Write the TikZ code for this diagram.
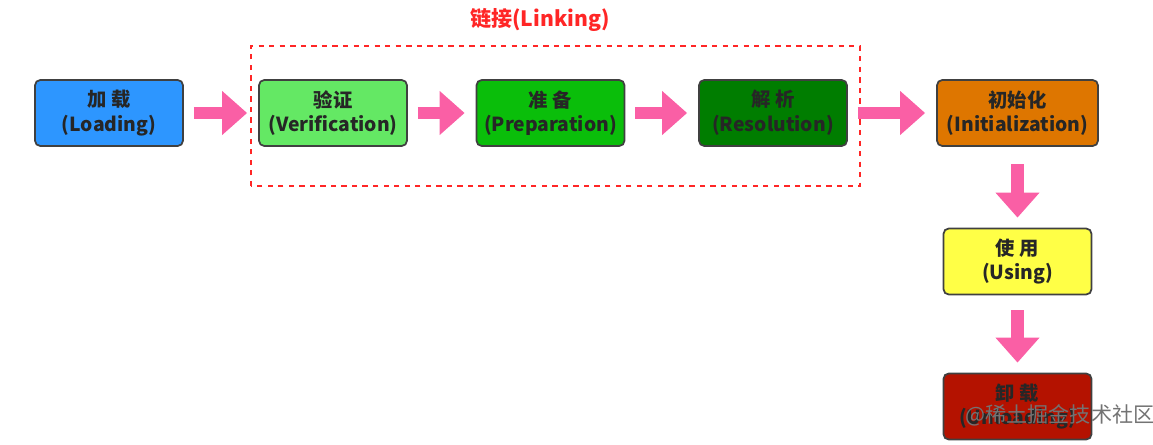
\documentclass[tikz,border=0pt]{standalone}
\usepackage{fontspec}
\setmainfont{Noto Sans CJK SC}
\usetikzlibrary{arrows.meta,positioning,fit,calc}
\definecolor{pinkarrow}{RGB}{250,95,165}
\definecolor{loadblue}{RGB}{45,150,255}
\definecolor{verigreen}{RGB}{100,232,100}
\definecolor{prepgreen}{RGB}{10,190,10}
\definecolor{resgreen}{RGB}{0,125,0}
\definecolor{initorange}{RGB}{222,118,0}
\definecolor{useyellow}{RGB}{255,255,70}
\definecolor{unloadred}{RGB}{180,18,0}

\begin{document}
\begin{tikzpicture}[font=\bfseries\fontsize{11}{14}\selectfont]
\tikzset{block/.style={rectangle,draw=black!75,line width=1pt,rounded corners=3pt,minimum width=2.96cm,minimum height=1.32cm,inner xsep=1pt,align=center,text=black!85}}
\tikzset{fat/.style={pinkarrow,line width=7pt,shorten <=0.2cm,shorten >=0.22cm,-{Triangle[length=0.5cm,width=0.85cm]}}}
\useasboundingbox (0,0) rectangle (23.06,8.88);

\node [block,fill=loadblue] (load) at (2.18,6.62) {加 载\\(Loading)};
\node [block,fill=verigreen] (veri) at (6.66,6.62) {验证\\(Verification)};
\node [block,fill=prepgreen] (prep) at (11.01,6.62) {准 备\\(Preparation)};
\node [block,fill=resgreen] (reso) at (15.46,6.62) {解 析\\(Resolution)};
\node [block,fill=initorange,minimum width=3.22cm] (init) at (20.35,6.62) {初始化\\(Initialization)};
\node [block,fill=useyellow] (use) at (20.35,3.65) {使 用\\(Using)};
\node [block,fill=unloadred] (unload) at (20.35,0.75) {卸 载\\(Unloading)};

\draw [red!85,dashed,line width=1.2pt] (5.02,5.16) rectangle (17.2,7.96);
\node [text=red!85,font=\bfseries\large] (link) at (10.8,8.48) {链接(Linking)};

\begin{scope}
\draw [fat] (load) -- (veri);
\draw [fat] (veri) -- (prep);
\draw [fat] (prep) -- (reso);
\draw [fat] (reso) -- (init);
\draw [fat,shorten <=0.35cm,shorten >=0.2cm] (init) -- (use);
\draw [fat,shorten <=0.3cm,shorten >=0.2cm] (use) -- (unload);
\end{scope}

\node [text=black!55,font=\large] (mark) at (21.2,0.58) {@稀土掘金技术社区};
\end{tikzpicture}
\end{document}
